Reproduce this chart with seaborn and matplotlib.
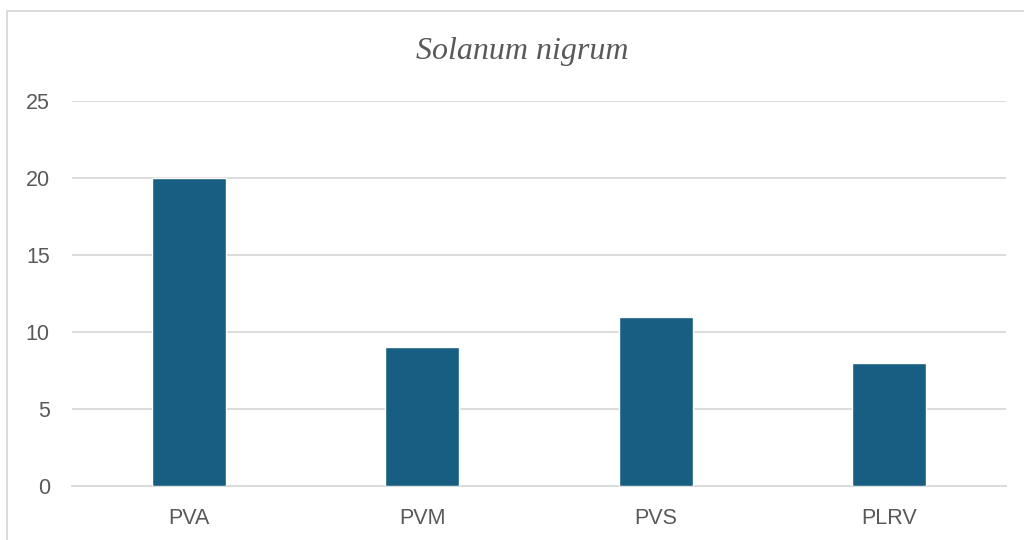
import matplotlib
matplotlib.use("Agg")
import matplotlib.pyplot as plt
import seaborn as sns
import pandas as pd
from matplotlib.lines import Line2D

categories = ["PVA", "PVM", "PVS", "PLRV"]
values = [20, 9, 11, 8]
yticks = [0, 5, 10, 15, 20, 25]
title = "Solanum nigrum"

sns.set_theme(style="white")
plt.rcParams['font.family'] = ['Liberation Sans', 'DejaVu Sans']

df = pd.DataFrame({"virus": categories, "count": values})

fig = plt.figure(figsize=(10.24, 5.4), dpi=100)
ax = fig.add_axes([72/1024, 1 - 486/540, (1006-72)/1024, (486-101)/540])

sns.barplot(data=df, x="virus", y="count", color="#175E82", width=0.315,
            saturation=1, ax=ax, zorder=3)

ax.set_ylim(0, 25)
ax.set_yticks(yticks)
ax.set_xlim(-0.5, len(categories) - 0.5)
ax.yaxis.grid(True, color="#D9D9D9", linewidth=1.3, zorder=0)
ax.set_axisbelow(True)
for s in ["top", "right", "left"]:
    ax.spines[s].set_visible(False)
ax.spines["bottom"].set_color("#D9D9D9")
ax.spines["bottom"].set_linewidth(1.3)
ax.set_xlabel("")
ax.set_ylabel("")
ax.tick_params(axis="y", length=0, pad=16, labelsize=15.5, labelcolor="#595959")
ax.tick_params(axis="x", length=0, pad=16, labelsize=15.5, labelcolor="#595959")

fig.text(522/1024, 1 - 51/540, title, ha="center", va="center", fontsize=23,
         style="italic", family=["Liberation Serif", "DejaVu Serif"], color="#595959")

# chart frame border (cropped at right/bottom)
fig.add_artist(Line2D([7/1024, 1], [1 - 11/540, 1 - 11/540], transform=fig.transFigure,
                      color="#D9D9D9", linewidth=1.3))
fig.add_artist(Line2D([7/1024, 7/1024], [0, 1 - 11/540], transform=fig.transFigure,
                      color="#D9D9D9", linewidth=1.3))

fig.savefig("out.png", dpi=100)
